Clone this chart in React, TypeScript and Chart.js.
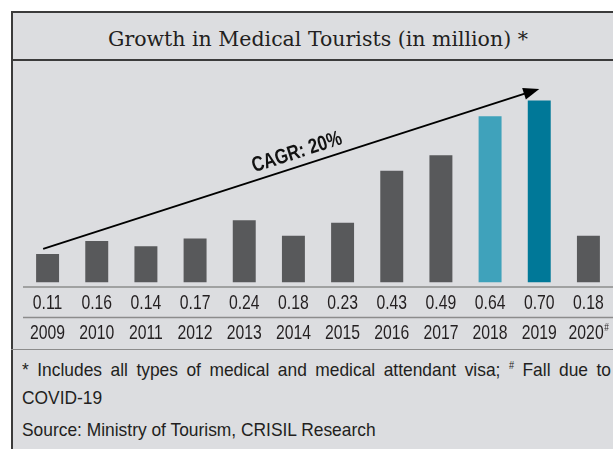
import React, { useEffect, useRef } from "react";
import { Chart, registerables } from "chart.js";

Chart.register(...registerables);

// ---- data ----
const years = ["2009", "2010", "2011", "2012", "2013", "2014", "2015", "2016", "2017", "2018", "2019", "2020"];
const yearNotes = ["", "", "", "", "", "", "", "", "", "", "", "#"];
const tourists = [0.11, 0.16, 0.14, 0.17, 0.24, 0.18, 0.23, 0.43, 0.49, 0.64, 0.7, 0.18];
const highlightYears = ["2018", "2019"];
const cagrFrom = [-0.09, 0.13]; // [category index, value]
const cagrTo = [10, 0.745];
const cagrLabel = "CAGR: 20%";
const titleText = "Growth in Medical Tourists (in million)";
const footnote1 = "* Includes all types of medical and medical attendant visa; ";
const footnote1b = " Fall due to";
const footnote2 = "COVID-19";
const sourceText = "Source: Ministry of Tourism, CRISIL Research";

// ---- styles ----
const SANS = "'Liberation Sans', Arial, sans-serif";
const SERIF = "'DejaVu Serif', serif";
const BG = "#dcdde0";
const BORDER = "#3b3b3b";
const RULE = "#8c8c8c";
const TEXT = "#231f20";
const GREY_BAR = "#58595b";
const HIGHLIGHT = ["#3fa2bb", "#007898"];
const NUM_SIZE = 21;
const NUM_SCALE = 0.75;
const NOTE_SCALE = 0.915;
const CAGR_SCALE = 0.8;

const barColors = years.map((y) => {
  const h = highlightYears.indexOf(y);
  return h >= 0 ? HIGHLIGHT[h] : GREY_BAR;
});

function squeezedText(ctx: any, text: string, x: number, y: number, s: number) {
  ctx.save();
  ctx.translate(x, y);
  ctx.scale(s, 1);
  ctx.textAlign = "left";
  ctx.fillText(text, 0, 0);
  ctx.restore();
}

const rowsPlugin = {
  id: "rowsPlugin",
  afterDraw(chart: any) {
    const { ctx, chartArea } = chart;
    const xs = chart.scales.x;
    const ys = chart.scales.y;
    const b = chartArea.bottom;
    ctx.save();
    // rules
    ctx.strokeStyle = RULE;
    ctx.lineWidth = 1.5;
    [b + 4.4, b + 35].forEach((yy) => {
      ctx.beginPath();
      ctx.moveTo(chartArea.left, yy);
      ctx.lineTo(chartArea.right + 20, yy);
      ctx.stroke();
    });
    // values and years
    ctx.fillStyle = TEXT;
    ctx.textBaseline = "middle";
    years.forEach((yr, i) => {
      const cx = xs.getPixelForValue(i);
      ctx.font = `${NUM_SIZE}px ${SANS}`;
      const val = tourists[i].toFixed(2);
      const wv = ctx.measureText(val).width * NUM_SCALE;
      squeezedText(ctx, val, cx - wv / 2, b + 20.5, NUM_SCALE);
      const note = yearNotes[i];
      const w1 = ctx.measureText(yr).width * NUM_SCALE;
      ctx.font = `11px ${SANS}`;
      const w2 = note ? ctx.measureText(note).width * NUM_SCALE : 0;
      const startX = cx - (w1 + w2) / 2;
      ctx.font = `${NUM_SIZE}px ${SANS}`;
      squeezedText(ctx, yr, startX, b + 51, NUM_SCALE);
      if (note) {
        ctx.font = `11px ${SANS}`;
        squeezedText(ctx, note, startX + w1 + 0.5, b + 45, NUM_SCALE);
      }
    });
    // arrow
    const x0 = xs.getPixelForValue(cagrFrom[0]);
    const y0 = ys.getPixelForValue(cagrFrom[1]);
    const x1 = xs.getPixelForValue(cagrTo[0]);
    const y1 = ys.getPixelForValue(cagrTo[1]);
    const ang = Math.atan2(y1 - y0, x1 - x0);
    const headLen = 16;
    const headHalf = 6;
    ctx.strokeStyle = "#000";
    ctx.fillStyle = "#000";
    ctx.lineWidth = 1.8;
    ctx.beginPath();
    ctx.moveTo(x0, y0);
    ctx.lineTo(x1 - headLen * Math.cos(ang) * 0.8, y1 - headLen * Math.sin(ang) * 0.8);
    ctx.stroke();
    ctx.save();
    ctx.translate(x1, y1);
    ctx.rotate(ang);
    ctx.beginPath();
    ctx.moveTo(0, 0);
    ctx.lineTo(-headLen, -headHalf);
    ctx.lineTo(-headLen, headHalf);
    ctx.closePath();
    ctx.fill();
    ctx.restore();
    // label
    const t = 0.52;
    const mx = x0 + (x1 - x0) * t;
    const my = y0 + (y1 - y0) * t;
    ctx.save();
    ctx.translate(mx, my);
    ctx.rotate(ang);
    ctx.font = `bold 21px ${SANS}`;
    ctx.fillStyle = "#111";
    ctx.textBaseline = "alphabetic";
    const wl = ctx.measureText(cagrLabel).width * CAGR_SCALE;
    squeezedText(ctx, cagrLabel, -wl / 2, -8, CAGR_SCALE);
    ctx.restore();
    ctx.restore();
  },
};

function ChartCanvas() {
  const ref = useRef<HTMLCanvasElement>(null);
  useEffect(() => {
    if (!ref.current) return;
    const chart = new Chart(ref.current, {
      type: "bar",
      data: {
        labels: years,
        datasets: [
          {
            data: tourists,
            backgroundColor: barColors,
            barPercentage: 0.467,
            categoryPercentage: 1,
          },
        ],
      },
      options: {
        responsive: false,
        animation: false,
        layout: { padding: { left: 11, right: 0, top: 0, bottom: 66.4 } },
        plugins: { legend: { display: false }, tooltip: { enabled: false }, title: { display: false } },
        scales: {
          x: { display: false },
          y: { display: false, min: 0, max: 0.86 },
        },
      },
      plugins: [rowsPlugin],
    });
    return () => chart.destroy();
  }, []);
  return (
    <canvas
      ref={ref}
      width={601}
      height={290}
      style={{ position: "absolute", left: 12, top: 59, width: 601, height: 290 }}
    />
  );
}

const noteLine: any = {
  position: "absolute",
  left: 22,
  height: 28,
  lineHeight: "28px",
  fontFamily: SANS,
  fontSize: 19,
  color: TEXT,
  whiteSpace: "nowrap",
  transform: `scaleX(${NOTE_SCALE})`,
  transformOrigin: "0 0",
};

export default function App() {
  return (
    <div
      style={{
        position: "fixed",
        left: 0,
        top: 0,
        width: 613,
        height: 449,
        background: "#fff",
        overflow: "hidden",
      }}
    >
      <div
        style={{
          position: "absolute",
          left: 11,
          top: 11,
          width: 640,
          height: 460,
          background: BG,
          borderLeft: `2px solid ${BORDER}`,
          borderTop: `2px solid ${BORDER}`,
        }}
      />
      <div
        style={{
          position: "absolute",
          left: 13,
          top: 17,
          width: 610,
          height: 44,
          lineHeight: "44px",
          textAlign: "center",
          fontFamily: SERIF,
          fontSize: 20.5,
          color: TEXT,
          whiteSpace: "nowrap",
        }}
      >
        {titleText} *
      </div>
      <div style={{ position: "absolute", left: 11, top: 58.5, width: 620, height: 2, background: BORDER }} />
      <ChartCanvas />
      <div style={{ position: "absolute", left: 11, top: 348.5, width: 620, height: 1.5, background: RULE }} />
      <div
        style={{
          ...noteLine,
          top: 356,
          width: 589 / NOTE_SCALE,
          textAlign: "justify",
          textAlignLast: "justify",
        }}
      >
        {footnote1}
        <sup style={{ fontSize: 10, lineHeight: 0 }}>#</sup>
        {footnote1b}
      </div>
      <div style={{ ...noteLine, top: 384 }}>{footnote2}</div>
      <div style={{ ...noteLine, top: 416 }}>{sourceText}</div>
    </div>
  );
}
